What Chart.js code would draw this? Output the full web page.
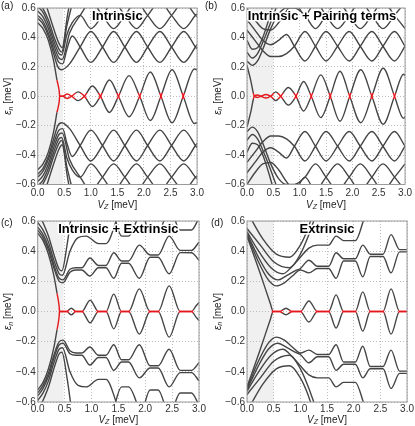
<!DOCTYPE html>
<html>
<head>
<meta charset="utf-8">
<script src="https://cdn.jsdelivr.net/npm/chart.js@4.4.1/dist/chart.umd.min.js"></script>
<style>
  html, body { margin: 0; padding: 0; background: #fff; }
  #fig { position: relative; width: 415px; height: 426px; overflow: hidden; }
  #fig canvas { position: absolute; }
</style>
</head>
<body>
<div id="fig">
  <canvas id="pa" width="207" height="212" style="left:0;top:0"></canvas>
  <canvas id="pb" width="211" height="212" style="left:204px;top:0"></canvas>
  <canvas id="pc" width="207" height="213" style="left:0;top:213px"></canvas>
  <canvas id="pd" width="211" height="213" style="left:204px;top:213px"></canvas>
</div>
<script>
'use strict';

// axis ticks
const xTickValues = [0, 0.5, 1, 1.5, 2, 2.5, 3];
const yTickValues = [-0.6, -0.4, -0.2, 0, 0.2, 0.4, 0.6];

const panelLetters = ['(a)', '(b)', '(c)', '(d)'];
const panelTitles = ['Intrinsic', 'Intrinsic + Pairing terms', 'Intrinsic + Extrinsic', 'Extrinsic'];
const shadeEnds = [0.48, 0.5, 0.48, 0.5];
// |energy| below which the lowest pair is drawn red
const redBands = [0.022, 0.022, 0.012, 0.012];

// --- (a) Intrinsic : [Vz, energy] pairs, upper half (spectrum is mirrored) ---
const aArc = [[0.362, 0.11], [0.385, 0.075], [0.403, 0.04], [0.413, 0]];
const aZero = [[0.413, 0], [0.47, 0], [0.555, 0.015], [0.64, 0], [0.76, -0.03], [0.88, 0],
  [1.03, 0.07], [1.18, 0], [1.35, -0.11], [1.52, 0], [1.72, 0.14], [1.92, 0],
  [2.12, -0.165], [2.32, 0], [2.53, 0.18], [2.74, 0], [2.95, -0.185], [3.0, -0.18]];
const aLevels = [
  [[0, 0.5], [0.1, 0.46], [0.2, 0.38], [0.3, 0.24], [0.362, 0.11]],
  [[0, 0.53], [0.1, 0.49], [0.2, 0.41], [0.3, 0.29], [0.38, 0.2], [0.45, 0.18], [0.6, 0.22],
   [0.8, 0.335], [1.0, 0.44], [1.22, 0.335], [1.43, 0.23], [1.64, 0.335], [1.86, 0.44],
   [2.07, 0.335], [2.3, 0.23], [2.52, 0.335], [2.75, 0.44], [2.97, 0.335], [3.0, 0.32]],
  [[0, 0.55], [0.1, 0.51], [0.2, 0.43], [0.3, 0.32], [0.4, 0.23], [0.47, 0.22], [0.55, 0.32],
   [0.65, 0.41], [0.8, 0.335], [1.0, 0.23], [1.22, 0.335], [1.43, 0.44], [1.64, 0.335],
   [1.86, 0.23], [2.07, 0.335], [2.3, 0.44], [2.52, 0.335], [2.75, 0.23], [2.97, 0.335], [3.0, 0.35]],
  [[0, 0.58], [0.1, 0.54], [0.2, 0.46], [0.3, 0.35], [0.4, 0.26], [0.46, 0.25], [0.6, 0.43],
   [0.8, 0.55], [1.0, 0.64], [1.22, 0.55], [1.43, 0.46], [1.64, 0.55], [1.86, 0.64],
   [2.07, 0.55], [2.3, 0.46], [2.52, 0.55], [2.75, 0.64], [2.97, 0.55], [3.0, 0.54]],
  [[0, 0.61], [0.1, 0.57], [0.2, 0.49], [0.3, 0.38], [0.4, 0.29], [0.45, 0.28], [0.55, 0.42],
   [0.65, 0.5], [0.8, 0.55], [1.0, 0.46], [1.22, 0.55], [1.43, 0.64], [1.64, 0.55],
   [1.86, 0.46], [2.07, 0.55], [2.3, 0.64], [2.52, 0.55], [2.75, 0.46], [2.97, 0.55], [3.0, 0.56]],
  [[0.05, 0.63], [0.2, 0.52], [0.3, 0.41], [0.4, 0.32], [0.45, 0.3], [0.55, 0.48], [0.65, 0.63]],
  [[0.15, 0.63], [0.3, 0.46], [0.4, 0.36], [0.46, 0.33], [0.56, 0.55], [0.6, 0.63]]
];

// --- (b) Intrinsic + Pairing terms ---
const bZero = [[0, 0.21], [0.07, 0.11], [0.14, 0], [0.2, -0.008], [0.27, 0], [0.36, 0.012],
  [0.45, 0], [0.545, -0.03], [0.64, 0], [0.785, 0.06], [0.93, 0], [1.075, -0.1], [1.22, 0],
  [1.4, 0.145], [1.58, 0], [1.765, -0.17], [1.95, 0], [2.16, 0.18], [2.37, 0],
  [2.585, -0.19], [2.8, 0], [2.97, 0.15], [3.0, 0.14]];
const bLevels = [
  [[0, 0.45], [0.15, 0.38], [0.3, 0.31], [0.45, 0.27], [0.6, 0.27], [0.75, 0.29],
   [0.9, 0.34], [1.1, 0.44], [1.3, 0.34], [1.5, 0.24], [1.72, 0.34], [1.94, 0.44], [2.15, 0.34],
   [2.37, 0.24], [2.58, 0.34], [2.8, 0.44], [3.0, 0.34]],
  [[0, 0.52], [0.15, 0.45], [0.3, 0.38], [0.45, 0.35], [0.6, 0.38], [0.75, 0.42],
   [0.9, 0.34], [1.1, 0.24], [1.3, 0.34], [1.5, 0.44], [1.72, 0.34], [1.94, 0.24], [2.15, 0.34],
   [2.37, 0.44], [2.58, 0.34], [2.8, 0.24], [3.0, 0.34]],
  [[0, 0.24], [0.1, 0.21], [0.2, 0.24], [0.3, 0.32], [0.45, 0.46], [0.6, 0.56], [0.75, 0.6],
   [0.9, 0.6], [1.1, 0.55], [1.3, 0.46], [1.5, 0.55], [1.72, 0.64], [1.94, 0.55], [2.15, 0.46],
   [2.37, 0.55], [2.58, 0.64], [2.8, 0.55], [3.0, 0.46]],
  [[0, 0.3], [0.1, 0.26], [0.2, 0.29], [0.35, 0.41], [0.5, 0.55], [0.58, 0.63]],
  [[0, 0.38], [0.1, 0.32], [0.2, 0.33], [0.3, 0.4], [0.42, 0.53], [0.5, 0.63]],
  [[0, 0.6], [0.15, 0.52], [0.3, 0.46], [0.45, 0.45], [0.6, 0.5], [0.75, 0.58], [0.9, 0.64],
   [1.1, 0.55], [1.3, 0.64], [1.5, 0.55], [1.72, 0.46], [1.94, 0.55], [2.15, 0.64],
   [2.37, 0.55], [2.58, 0.46], [2.8, 0.55], [3.0, 0.64]]
];

// --- (c) Intrinsic + Extrinsic ---
const cArc = [[0.36, 0.12], [0.383, 0.075], [0.398, 0.035], [0.405, 0]];
const cZero = [[0.405, 0], [0.54, 0], [0.625, 0.022], [0.71, 0], [0.82, 0], [0.975, -0.075],
  [1.13, 0], [1.27, 0], [1.415, 0.115], [1.56, 0], [1.69, 0], [1.89, -0.15], [2.09, 0],
  [2.24, 0], [2.445, 0.17], [2.65, 0], [2.86, 0], [2.95, -0.04], [3.0, -0.06]];
const cLevels = [
  [[0, 0.52], [0.1, 0.47], [0.2, 0.38], [0.3, 0.24], [0.36, 0.12]],
  [[0, 0.54], [0.1, 0.49], [0.2, 0.41], [0.3, 0.29], [0.4, 0.2], [0.47, 0.19], [0.6, 0.26],
   [0.71, 0.275], [0.82, 0.275], [0.97, 0.235], [1.13, 0.29], [1.27, 0.29], [1.415, 0.22],
   [1.56, 0.32], [1.69, 0.32], [1.89, 0.22], [2.09, 0.36], [2.24, 0.36], [2.445, 0.25],
   [2.65, 0.39], [2.86, 0.39], [3.0, 0.34]],
  [[0, 0.56], [0.1, 0.51], [0.2, 0.43], [0.3, 0.31], [0.4, 0.22], [0.47, 0.21], [0.6, 0.28],
   [0.71, 0.29], [0.82, 0.29], [0.97, 0.355], [1.13, 0.305], [1.27, 0.305], [1.415, 0.39],
   [1.56, 0.335], [1.69, 0.335], [1.89, 0.44], [2.09, 0.375], [2.24, 0.375], [2.445, 0.5],
   [2.65, 0.405], [2.86, 0.405], [3.0, 0.46]],
  [[0, 0.59], [0.1, 0.54], [0.2, 0.46], [0.3, 0.34], [0.4, 0.25], [0.46, 0.24], [0.6, 0.4],
   [0.75, 0.49], [0.9, 0.5], [1.13, 0.45], [1.27, 0.45], [1.5, 0.64]],
  [[1.4, 0.66], [1.56, 0.5], [1.69, 0.5], [1.9, 0.66]],
  [[1.95, 0.66], [2.09, 0.52], [2.24, 0.52], [2.4, 0.66]],
  [[2.5, 0.66], [2.65, 0.54], [2.86, 0.54], [3.0, 0.62]],
  [[0.05, 0.63], [0.2, 0.5], [0.3, 0.38], [0.4, 0.28], [0.45, 0.27], [0.55, 0.45], [0.62, 0.63]]
];

// --- (d) Extrinsic ---
const dZero = [[0, 0.5], [0.24, 0.26], [0.44, 0.05], [0.49, 0], [0.61, 0], [0.73, 0.022],
  [0.85, 0], [1.0, 0], [1.16, -0.07], [1.32, 0], [1.53, 0], [1.67, 0.11], [1.81, 0],
  [2.03, 0], [2.17, -0.13], [2.31, 0], [2.55, 0], [2.7, 0.15], [2.86, 0], [3.0, 0]];
const dLevels = [
  [[0, 0.51], [0.2, 0.34], [0.4, 0.21], [0.55, 0.17], [0.7, 0.19], [0.85, 0.235], [1.0, 0.275],
   [1.16, 0.256], [1.32, 0.285], [1.53, 0.285], [1.67, 0.22], [1.81, 0.335], [2.03, 0.335],
   [2.17, 0.23], [2.31, 0.365], [2.55, 0.365], [2.7, 0.256], [2.86, 0.395], [3.0, 0.395]],
  [[0, 0.52], [0.2, 0.37], [0.4, 0.25], [0.58, 0.21], [0.75, 0.24], [0.9, 0.27], [1.0, 0.285],
   [1.16, 0.34], [1.32, 0.3], [1.53, 0.3], [1.67, 0.39], [1.81, 0.35], [2.03, 0.35],
   [2.17, 0.44], [2.31, 0.38], [2.55, 0.38], [2.7, 0.51], [2.86, 0.41], [3.0, 0.41]],
  [[0, 0.53], [0.2, 0.41], [0.45, 0.29], [0.67, 0.25], [0.85, 0.3], [1.0, 0.36], [1.16, 0.42],
   [1.32, 0.44], [1.53, 0.44], [1.67, 0.5], [1.81, 0.47], [2.03, 0.47], [2.2, 0.62]],
  [[0, 0.55], [0.25, 0.44], [0.5, 0.33], [0.8, 0.29], [1.0, 0.38], [1.15, 0.5], [1.28, 0.63]],
  [[0.05, 0.63], [0.3, 0.48], [0.55, 0.38], [0.8, 0.36], [1.0, 0.44], [1.12, 0.53], [1.22, 0.63]]
];

const GRAY = '#454545';
const RED = '#e3171c';

const toPoints = (c) => c.map(([x, y]) => ({ x, y }));
const mirror = (c) => c.map(([x, y]) => [x, -y]);

function lineSet(curve, color) {
  return {
    data: toPoints(curve),
    borderColor: color,
    borderWidth: 1.4,
    pointRadius: 0,
    fill: false,
    cubicInterpolationMode: 'monotone'
  };
}

// grey line that turns red close to zero energy
function zeroColor(band) {
  return (ctx) => {
    const chart = ctx.chart;
    const area = chart.chartArea;
    if (!area) return GRAY;
    const ys = chart.scales.y;
    const h = area.bottom - area.top;
    const f1 = Math.max(0, Math.min(1, (ys.getPixelForValue(band) - area.top) / h));
    const f2 = Math.max(0, Math.min(1, (ys.getPixelForValue(-band) - area.top) / h));
    const g = chart.ctx.createLinearGradient(0, area.top, 0, area.bottom);
    g.addColorStop(0, GRAY);
    g.addColorStop(f1, GRAY);
    g.addColorStop(f1, RED);
    g.addColorStop(f2, RED);
    g.addColorStop(f2, GRAY);
    g.addColorStop(1, GRAY);
    return g;
  };
}

function drawSubLabel(ctx, main, sub, rest, x, y) {
  const big = '10px "Liberation Sans", Arial, sans-serif';
  const bigI = 'italic 10px "Liberation Sans", Arial, sans-serif';
  const small = 'italic 7px "Liberation Sans", Arial, sans-serif';
  ctx.font = bigI; const w1 = ctx.measureText(main).width;
  ctx.font = small; const w2 = ctx.measureText(sub).width;
  ctx.font = big; const w3 = ctx.measureText(rest).width;
  let cx = x - (w1 + w2 + w3) / 2;
  ctx.textBaseline = 'middle';
  ctx.textAlign = 'left';
  ctx.fillStyle = '#222';
  ctx.font = bigI; ctx.fillText(main, cx, y); cx += w1;
  ctx.font = small; ctx.fillText(sub, cx, y + 2.5); cx += w2;
  ctx.font = big; ctx.fillText(rest, cx, y);
}

const decor = {
  id: 'decor',
  beforeDraw(chart, args, opts) {
    const { ctx, chartArea: a, scales } = chart;
    ctx.save();
    ctx.fillStyle = '#f0f0f0';
    const x0 = scales.x.getPixelForValue(0);
    const x1 = scales.x.getPixelForValue(opts.shadeEnd);
    ctx.fillRect(x0, a.top, x1 - x0, a.bottom - a.top);
    ctx.restore();
  },
  afterDraw(chart, args, opts) {
    const { ctx, chartArea: a } = chart;
    ctx.save();
    // frame
    ctx.strokeStyle = '#9a9a9a';
    ctx.lineWidth = 1;
    ctx.strokeRect(a.left, a.top, a.right - a.left, a.bottom - a.top);
    // panel title with white halo
    ctx.font = 'bold 13px "Liberation Sans", Arial, sans-serif';
    ctx.textAlign = 'center';
    ctx.textBaseline = 'middle';
    const tx = (a.left + a.right) / 2 + opts.titleShift;
    const ty = a.top + 8.5;
    ctx.lineJoin = 'round';
    ctx.strokeStyle = '#fff';
    ctx.lineWidth = 3;
    ctx.strokeText(opts.title, tx, ty);
    ctx.fillStyle = '#000';
    ctx.fillText(opts.title, tx, ty);
    // panel letter
    ctx.font = '10px "Liberation Sans", Arial, sans-serif';
    ctx.textAlign = 'left';
    ctx.fillStyle = '#222';
    ctx.fillText(opts.letter, opts.letterX, opts.letterY);
    // axis titles
    drawSubLabel(ctx, 'V', 'Z', ' [meV]', (a.left + a.right) / 2, opts.xTitleY);
    ctx.translate(a.left - 29, (a.top + a.bottom) / 2);
    ctx.rotate(-Math.PI / 2);
    drawSubLabel(ctx, '\u03b5', 'n', ' [meV]', 0, 0);
    ctx.restore();
  }
};

function makePanel(id, idx, levels, zero, arc, geo) {
  const datasets = [];
  levels.forEach((c) => {
    datasets.push(lineSet(c, GRAY));
    datasets.push(lineSet(mirror(c), GRAY));
  });
  if (arc) {
    datasets.push(lineSet(arc, RED));
    datasets.push(lineSet(mirror(arc), RED));
  }
  datasets.push(lineSet(zero, zeroColor(redBands[idx])));
  datasets.push(lineSet(mirror(zero), zeroColor(redBands[idx])));

  const tickFont = { family: '"Liberation Sans", Arial, sans-serif', size: 10 };
  const gridOpts = { color: '#bdbdbd', lineWidth: 1, drawTicks: false };
  new Chart(document.getElementById(id), {
    type: 'line',
    data: { datasets },
    options: {
      responsive: false,
      animation: false,
      events: [],
      layout: { padding: { left: geo.padLeft, right: geo.padRight, top: 6, bottom: 0 } },
      plugins: {
        legend: { display: false },
        tooltip: { enabled: false },
        decor: {
          title: panelTitles[idx],
          letter: panelLetters[idx],
          shadeEnd: shadeEnds[idx],
          titleShift: geo.titleShift,
          letterX: geo.letterX,
          letterY: geo.letterY,
          xTitleY: geo.xTitleY
        }
      },
      scales: {
        x: {
          type: 'linear',
          min: 0,
          max: 3,
          afterBuildTicks: (s) => { s.ticks = xTickValues.map((v) => ({ value: v })); },
          afterFit: (s) => { s.height = geo.xAxisH; },
          grid: gridOpts,
          border: { display: false, dash: [1, 2] },
          ticks: {
            font: tickFont, color: '#333', padding: geo.xPad, maxRotation: 0,
            callback: (v) => Number(v).toFixed(1)
          }
        },
        y: {
          min: -0.6,
          max: 0.6,
          afterBuildTicks: (s) => { s.ticks = yTickValues.map((v) => ({ value: v })); },
          afterFit: (s) => { s.width = 37.7; },
          grid: gridOpts,
          border: { display: false, dash: [1, 2] },
          ticks: {
            font: tickFont, color: '#333', padding: 2,
            callback: (v) => (v < 0 ? '\u2212' : '') + Math.abs(Number(v)).toFixed(1)
          }
        }
      }
    },
    plugins: [decor]
  });
}

makePanel('pa', 0, aLevels, aZero, aArc,
  { padLeft: 0, padRight: 8, xAxisH: 27.5, xPad: 3, titleShift: 0, letterX: 1, letterY: 6, xTitleY: 205 });
makePanel('pb', 1, bLevels, bZero, null,
  { padLeft: 5.3, padRight: 6, xAxisH: 27.5, xPad: 3, titleShift: -4, letterX: 1, letterY: 6, xTitleY: 205 });
makePanel('pc', 2, cLevels, cZero, cArc,
  { padLeft: 0, padRight: 8, xAxisH: 24, xPad: 1, titleShift: 0, letterX: 1, letterY: 10, xTitleY: 207 });
makePanel('pd', 3, dLevels, dZero, null,
  { padLeft: 5.3, padRight: 6, xAxisH: 24, xPad: 1, titleShift: 0, letterX: 7, letterY: 10, xTitleY: 207 });
</script>
</body>
</html>
